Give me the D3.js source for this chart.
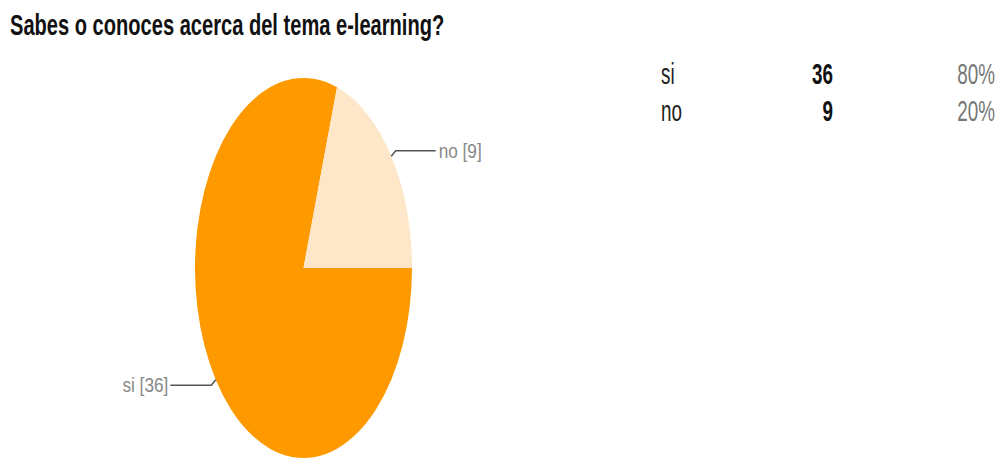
<!DOCTYPE html>
<html>
<head>
<meta charset="utf-8">
<script src="https://cdn.jsdelivr.net/npm/d3@7/dist/d3.min.js"></script>
<style>
  html, body { margin: 0; padding: 0; background: #fff; }
  svg { display: block; font-family: "Liberation Sans", Arial, sans-serif; }
</style>
</head>
<body>
<svg id="chart" width="1001" height="459"></svg>
<script>
// data
const TITLE = 'Sabes o conoces acerca del tema e-learning?'
const categories = ['si', 'no']
const counts = [36, 9]
const percentLabels = ['80%', '20%']
const colors = ['#ff9900', '#fde7c8']

const WIDTH = 1001
const HEIGHT = 459
const CX = 303.5
const CY = 268
const RX = 108.5
const RY = 190
const SQUEEZE = 0.65 // the source image is squashed horizontally

const svg = d3.select('#chart')

// text squeezed horizontally like the source screenshot
let squeezedText = function (parent, x, y, str, sx) {
  return parent.append('text')
    .attr('transform', `translate(${x},${y}) scale(${sx},1)`)
    .text(str)
}

// title
squeezedText(svg, 10, 35, TITLE, 0.67)
  .attr('font-size', 30)
  .attr('font-weight', 'bold')
  .attr('fill', '#111')

// pie
const data = categories.map((c, i) => ({ name: c, value: counts[i], color: colors[i] }))
const pie = d3.pie()
  .sort(null)
  .value(d => d.value)
  .startAngle(Math.PI / 2)
  .endAngle(Math.PI / 2 + 2 * Math.PI)
const arcs = pie(data)
const arc = d3.arc().innerRadius(0).outerRadius(RY)

svg.append('g')
  .attr('transform', `translate(${CX},${CY}) scale(${RX / RY},1)`)
  .selectAll('path')
  .data(arcs)
  .join('path')
  .attr('d', arc)
  .attr('fill', d => d.data.color)

// leader lines + labels
let edgePoint = function (a, k) {
  return [CX + k * RX * Math.sin(a), CY - k * RY * Math.cos(a)]
}
const labels = svg.append('g').classed('labels', true)
arcs.forEach(d => {
  let mid = (d.startAngle + d.endAngle) / 2
  let right = Math.sin(mid) > 0
  let p0 = edgePoint(mid, 1.0)
  let p1 = edgePoint(mid, 1.05)
  let p2 = [p1[0] + (right ? 40 : -41), p1[1]]
  labels.append('path')
    .attr('d', d3.line()([p0, p1, p2]))
    .attr('fill', 'none')
    .attr('stroke', '#555')
    .attr('stroke-width', 1.5)
  squeezedText(labels, p2[0] + (right ? 3 : -2), p2[1] + 7, `${d.data.name} [${d.data.value}]`, 0.82)
    .attr('text-anchor', right ? 'start' : 'end')
    .attr('font-size', 21)
    .attr('fill', '#888')
})

// summary table on the right
const rowY = d3.scalePoint().domain(categories).range([84, 121])
const table = svg.append('g').classed('table', true)
categories.forEach((c, i) => {
  let y = rowY(c)
  squeezedText(table, 661, y, c, SQUEEZE)
    .attr('font-size', 29)
    .attr('fill', '#222')
  squeezedText(table, 833, y, counts[i], SQUEEZE)
    .attr('text-anchor', 'end')
    .attr('font-size', 29)
    .attr('font-weight', 'bold')
    .attr('fill', '#111')
  squeezedText(table, 995, y, percentLabels[i], SQUEEZE)
    .attr('text-anchor', 'end')
    .attr('font-size', 29)
    .attr('fill', '#777')
})
</script>
</body>
</html>
